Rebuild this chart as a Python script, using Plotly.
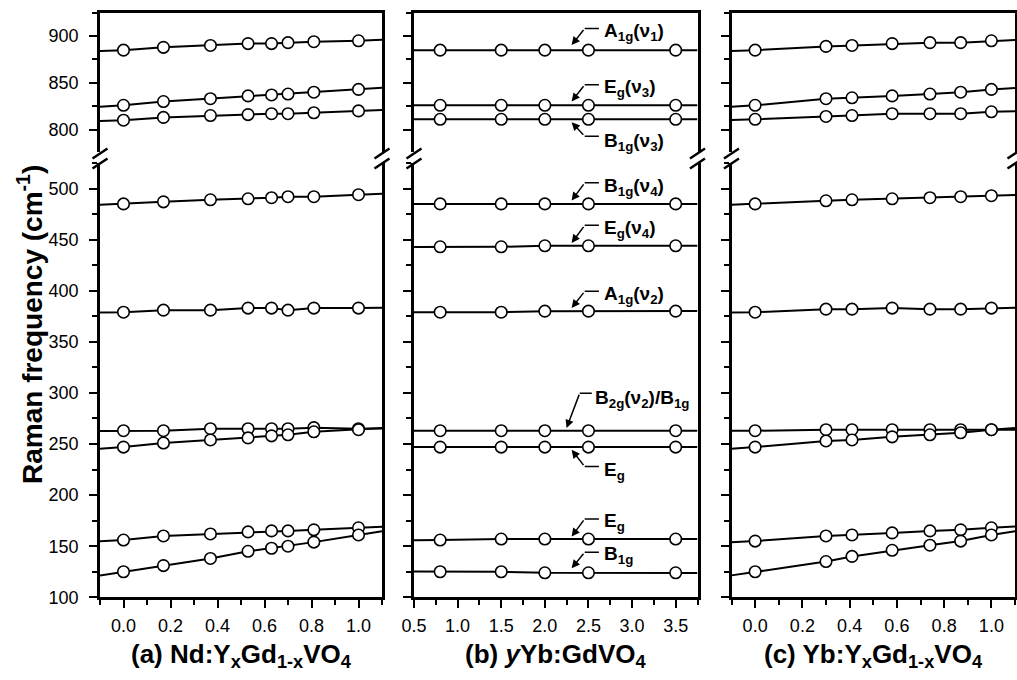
import numpy as np
import plotly.graph_objects as go

# ---------------- data ----------------
x_a = [0.0, 0.17, 0.37, 0.53, 0.63, 0.70, 0.81, 1.0]
a_A1g_v1 = [885, 888, 890, 892, 892, 893, 894, 895]
a_Eg_v3 = [826, 830, 833, 836, 837, 838, 840, 843]
a_B1g_v3 = [810, 813, 815, 816, 817, 817, 818, 820]
a_B1g_v4 = [485, 487, 489, 490, 491, 492, 492, 494]
a_A1g_v2 = [379, 381, 381, 383, 383, 381, 383, 383]
a_B2g_B1g = [263, 263, 265, 265, 265, 265, 266, 265]
a_Eg_mid = [247, 251, 254, 256, 258, 259, 262, 264]
a_Eg_low = [156, 160, 162, 164, 165, 165, 166, 168]
a_B1g_low = [125, 131, 138, 145, 148, 150, 154, 161]

x_b = [0.8, 1.5, 2.0, 2.5, 3.5]
b_A1g_v1 = [885, 885, 885, 885, 885]
b_Eg_v3 = [826, 826, 826, 826, 826]
b_B1g_v3 = [811, 811, 811, 811, 811]
b_B1g_v4 = [485, 485, 485, 485, 485]
b_Eg_v4 = [443, 443, 444, 444, 444]
b_A1g_v2 = [379, 379, 380, 380, 380]
b_B2g_B1g = [263, 263, 263, 263, 263]
b_Eg_mid = [247, 247, 247, 247, 247]
b_Eg_low = [156, 157, 157, 157, 157]
b_B1g_low = [125, 125, 124, 124, 124]

x_c = [0.0, 0.30, 0.41, 0.58, 0.74, 0.87, 1.0]
c_A1g_v1 = [885, 889, 890, 892, 893, 893, 895]
c_Eg_v3 = [826, 833, 834, 836, 838, 840, 843]
c_B1g_v3 = [811, 814, 815, 817, 817, 817, 819]
c_B1g_v4 = [485, 488, 489, 490, 491, 492, 493]
c_A1g_v2 = [379, 382, 382, 383, 382, 382, 383]
c_B2g_B1g = [263, 264, 264, 264, 264, 264, 264]
c_Eg_mid = [247, 253, 254, 257, 259, 261, 264]
c_Eg_low = [155, 160, 161, 163, 165, 166, 168]
c_B1g_low = [125, 135, 140, 146, 151, 155, 161]

x_titles = ["<b>(a) Nd:Y<sub>x</sub>Gd<sub>1-x</sub>VO<sub>4</sub></b>",
            "<b>(b) <i>y</i>Yb:GdVO<sub>4</sub></b>",
            "<b>(c) Yb:Y<sub>x</sub>Gd<sub>1-x</sub>VO<sub>4</sub></b>"]
y_title = "<b>Raman frequency (cm<sup>-1</sup>)</b>"

# mode labels in panel (b): text, segment, text_x, text_y, leader_x0, leader_x1, leader_y, tip_x, tip_y
mode_labels = [
    ("A<sub>1g</sub>(ν<sub>1</sub>)", "up", 2.66, 904.0, 2.62, 2.457, 908.2, 2.307, 890.4),
    ("E<sub>g</sub>(ν<sub>3</sub>)", "up", 2.66, 844.5, 2.62, 2.457, 847.9, 2.307, 830.1),
    ("B<sub>1g</sub>(ν<sub>3</sub>)", "up", 2.66, 787.0, 2.62, 2.457, 792.9, 2.307, 807.8),
    ("B<sub>1g</sub>(ν<sub>4</sub>)", "low", 2.66, 501.5, 2.62, 2.457, 505.6, 2.307, 488.2),
    ("E<sub>g</sub>(ν<sub>4</sub>)", "low", 2.66, 460.5, 2.62, 2.457, 464.0, 2.307, 446.8),
    ("A<sub>1g</sub>(ν<sub>2</sub>)", "low", 2.66, 395.5, 2.62, 2.457, 399.4, 2.307, 383.1),
    ("B<sub>2g</sub>(ν<sub>2</sub>)/B<sub>1g</sub>", "low", 2.55, 294.0, 2.538, 2.40, 299.8, 2.249, 265.6),
    ("E<sub>g</sub>", "low", 2.66, 224.0, 2.62, 2.457, 227.9, 2.307, 244.3),
    ("E<sub>g</sub>", "low", 2.66, 173.5, 2.62, 2.457, 176.7, 2.307, 159.4),
    ("B<sub>1g</sub>", "low", 2.66, 141.0, 2.62, 2.457, 144.1, 2.307, 128.4),
]

# ---------------- layout geometry ----------------
W, H = 1017, 680
FONT = "Liberation Sans, Arial, sans-serif"
panel_px = [(100, 382), (414, 697.5), (731.5, 1015)]
upper_px = (12.7, 152.0)
lower_px = (163.0, 597.3)
x_ranges = [[-0.1, 1.1], [0.5, 3.75], [-0.1, 1.1]]
x_dticks = [0.2, 0.5, 0.2]
low_range = [100, 525]
up_range = [776, 925.05]


def fx(p):
    return p / W


def fy(p):
    return 1 - p / H


panels = [
    (x_a, [a_A1g_v1, a_Eg_v3, a_B1g_v3],
     [a_B1g_v4, a_A1g_v2, a_B2g_B1g, a_Eg_mid, a_Eg_low, a_B1g_low]),
    (x_b, [b_A1g_v1, b_Eg_v3, b_B1g_v3],
     [b_B1g_v4, b_Eg_v4, b_A1g_v2, b_B2g_B1g, b_Eg_mid, b_Eg_low, b_B1g_low]),
    (x_c, [c_A1g_v1, c_Eg_v3, c_B1g_v3],
     [c_B1g_v4, c_A1g_v2, c_B2g_B1g, c_Eg_mid, c_Eg_low, c_B1g_low]),
]


def ax_name(n):
    return "" if n == 1 else str(n)


fig = go.Figure()
for i, (xs, ups, lows) in enumerate(panels):
    xmin, xmax = x_ranges[i]
    for seg, series in (("up", ups), ("low", lows)):
        n = i + 4 if seg == "up" else i + 1
        xa, ya = "x" + ax_name(n), "y" + ax_name(n)
        for ys in series:
            slope = np.polyfit(xs, ys, 1)[0]
            xl = [xmin] + list(xs) + [xmax]
            yl = [ys[0] + slope * (xmin - xs[0])] + list(ys) + [ys[-1] + slope * (xmax - xs[-1])]
            fig.add_trace(go.Scatter(x=xl, y=yl, mode="lines", xaxis=xa, yaxis=ya,
                                     line=dict(color="black", width=2),
                                     showlegend=False, hoverinfo="skip"))
            fig.add_trace(go.Scatter(x=xs, y=ys, mode="markers", xaxis=xa, yaxis=ya,
                                     marker=dict(symbol="circle", size=11.5, color="white",
                                                 line=dict(color="black", width=1.6)),
                                     showlegend=False))

tickfont = dict(family=FONT, size=18, color="black")
common = dict(showline=True, linecolor="black", linewidth=2.5, showgrid=False,
              zeroline=False, ticks="outside", ticklen=8, tickwidth=2, tickcolor="black",
              tickfont=tickfont, automargin=False)
layout = {}
for i in range(3):
    x0, x1 = panel_px[i]
    dom_x = [fx(x0), fx(x1)]
    dt = x_dticks[i]
    # lower x
    layout["xaxis" + ax_name(i + 1)] = dict(
        common, domain=dom_x, anchor="y" + ax_name(i + 1), range=x_ranges[i],
        tick0=0, dtick=dt, tickformat=".1f", mirror=False, ticklabelstandoff=2,
        minor=dict(ticks="outside", ticklen=5, tickwidth=2, tickcolor="black",
                   dtick=dt / 2, tick0=0, showgrid=False))
    # upper x (top frame line only)
    layout["xaxis" + str(i + 4)] = dict(
        showline=True, linecolor="black", linewidth=2.5, showgrid=False, zeroline=False,
        ticks="", showticklabels=False, domain=dom_x, anchor="y" + str(i + 4),
        side="top", range=x_ranges[i], automargin=False)
    # lower y
    layout["yaxis" + ax_name(i + 1)] = dict(
        common, domain=[fy(lower_px[1]), fy(lower_px[0])], anchor="x" + ax_name(i + 1),
        range=low_range, tick0=0, dtick=50, mirror=True, showticklabels=(i == 0),
        ticklabelstandoff=7,
        minor=dict(ticks="outside", ticklen=5, tickwidth=2, tickcolor="black",
                   dtick=25, tick0=0, showgrid=False))
    # upper y
    layout["yaxis" + str(i + 4)] = dict(
        common, domain=[fy(upper_px[1]), fy(upper_px[0])], anchor="x" + str(i + 4),
        range=up_range, tick0=0, dtick=50, mirror=True, showticklabels=(i == 0),
        ticklabelstandoff=7,
        minor=dict(ticks="outside", ticklen=5, tickwidth=2, tickcolor="black",
                   dtick=25, tick0=0, showgrid=False))
    # inward ticks on the right-hand frame
    for base, rng in ((i + 1, low_range), (i + 4, up_range)):
        layout["yaxis" + str(base + 6)] = dict(
            overlaying="y" + ax_name(base), side="right", anchor="x" + ax_name(base),
            range=rng, tick0=0, dtick=50, ticks="inside", ticklen=5, tickwidth=2,
            tickcolor="black", showticklabels=False, showline=False, showgrid=False,
            zeroline=False, automargin=False,
            minor=dict(ticks="inside", ticklen=5, tickwidth=2, tickcolor="black",
                       dtick=25, tick0=0, showgrid=False))

annotations = []
shapes = []
for i in range(3):
    x0, x1 = panel_px[i]
    annotations.append(dict(text=x_titles[i], xref="paper", yref="paper",
                            x=fx((x0 + x1) / 2), y=fy(655), xanchor="center",
                            yanchor="middle", showarrow=False,
                            font=dict(family=FONT, size=26, color="black")))
    # axis-break marks
    for xp in (x0, x1):
        for yc in (upper_px[1] + 1.5, lower_px[0] + 0.5):
            shapes.append(dict(type="line", xref="paper", yref="paper",
                               x0=fx(xp - 7.5), y0=fy(yc + 5), x1=fx(xp + 7.5), y1=fy(yc - 5),
                               line=dict(color="black", width=2.5)))

annotations.append(dict(text=y_title, xref="paper", yref="paper", x=fx(30), y=fy(325),
                        xanchor="center", yanchor="middle", textangle=-90, showarrow=False,
                        font=dict(family=FONT, size=28, color="black")))

for (txt, seg, tx, ty, hx0, hx1, hy, px_, py_) in mode_labels:
    xr_, yr_ = ("x5", "y5") if seg == "up" else ("x2", "y2")
    annotations.append(dict(text="<b>" + txt + "</b>", xref=xr_, yref=yr_, x=tx, y=ty,
                            xanchor="left", yanchor="middle", showarrow=False,
                            font=dict(family=FONT, size=19, color="black")))
    annotations.append(dict(text="", xref=xr_, yref=yr_, x=px_, y=py_, axref=xr_, ayref=yr_,
                            ax=hx1, ay=hy, showarrow=True, arrowhead=2, arrowsize=1.1,
                            arrowwidth=1.5, arrowcolor="black", standoff=0))
    shapes.append(dict(type="line", xref=xr_, yref=yr_, x0=hx0, x1=hx1, y0=hy, y1=hy,
                       line=dict(color="black", width=1.5)))

fig.update_layout(**layout)
fig.update_layout(width=W, height=H, margin=dict(l=0, r=0, t=0, b=0, pad=0),
                  plot_bgcolor="white", paper_bgcolor="white",
                  annotations=annotations, shapes=shapes, showlegend=False)
fig.write_html("out.html")
